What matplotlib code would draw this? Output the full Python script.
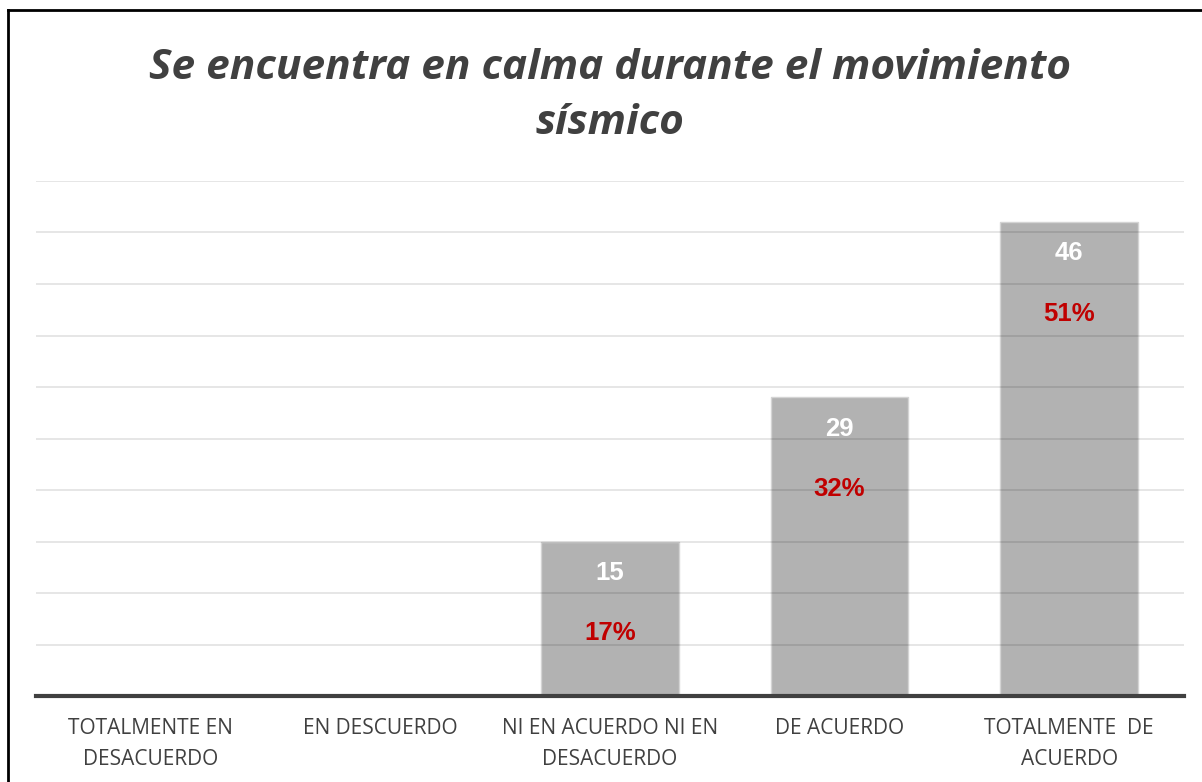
import matplotlib
matplotlib.use("Agg")
import matplotlib.pyplot as plt
from matplotlib.lines import Line2D

categories = ["TOTALMENTE EN\nDESACUERDO", "EN DESCUERDO", "NI EN ACUERDO NI EN\nDESACUERDO",
              "DE ACUERDO", "TOTALMENTE  DE\nACUERDO"]
values = [0, 0, 15, 29, 46]
percents = ["", "", "17%", "32%", "51%"]
title = "Se encuentra en calma durante el movimiento\nsísmico"

W, H = 1202, 782
fig = plt.figure(figsize=(W / 100, H / 100), dpi=100)
ax = fig.add_axes([36 / W, 1 - 696 / H, (1184 - 36) / W, (696 - 181) / H])

x = list(range(len(categories)))
ax.bar(x, values, width=0.6, color="#b2b2b2", edgecolor="#d4d4d4", linewidth=1, zorder=2)
ax.set_xlim(-0.5, len(categories) - 0.5)
ax.set_ylim(0, 50)
ax.set_yticks(range(0, 51, 5))
ax.yaxis.grid(True, color="black", alpha=0.13, linewidth=1.1, zorder=3)
ax.set_axisbelow(False)
for s in ["top", "right", "left"]:
    ax.spines[s].set_visible(False)
ax.spines["bottom"].set_color("#404040")
ax.spines["bottom"].set_linewidth(3)
ax.spines["bottom"].set_zorder(4)
ax.tick_params(axis="y", left=False, labelleft=False)
ax.tick_params(axis="x", bottom=False, pad=12.5)
ax.set_xticks(x)
ax.set_xticklabels(categories, fontfamily="Open Sans", fontsize=15, color="#404040",
                   linespacing=1.6)

for xi, v, p in zip(x, values, percents):
    if v > 0:
        ax.annotate(str(v), (xi, v), xytext=(0, -22.5), textcoords="offset points",
                    ha="center", va="center", fontfamily="Liberation Sans", fontweight="bold",
                    fontsize=18.5, color="white", zorder=5)
        ax.annotate(p, (xi, v), xytext=(0, -66), textcoords="offset points",
                    ha="center", va="center", fontfamily="Liberation Sans", fontweight="bold",
                    fontsize=18.5, color="#c00000", zorder=5)

fig.text(0.5 + 9 / W, 1 - 96 / H, title, ha="center", va="center", fontfamily="Open Sans",
         fontweight="bold", fontstyle="italic", fontsize=30.5, color="#404040", linespacing=1.45)

fig.add_artist(Line2D([8 / W, 8 / W], [0, 1 - 10 / H], color="black", linewidth=2))
fig.add_artist(Line2D([8 / W, 1], [1 - 10 / H, 1 - 10 / H], color="black", linewidth=2))

fig.savefig("out.png", dpi=100, facecolor="white")
